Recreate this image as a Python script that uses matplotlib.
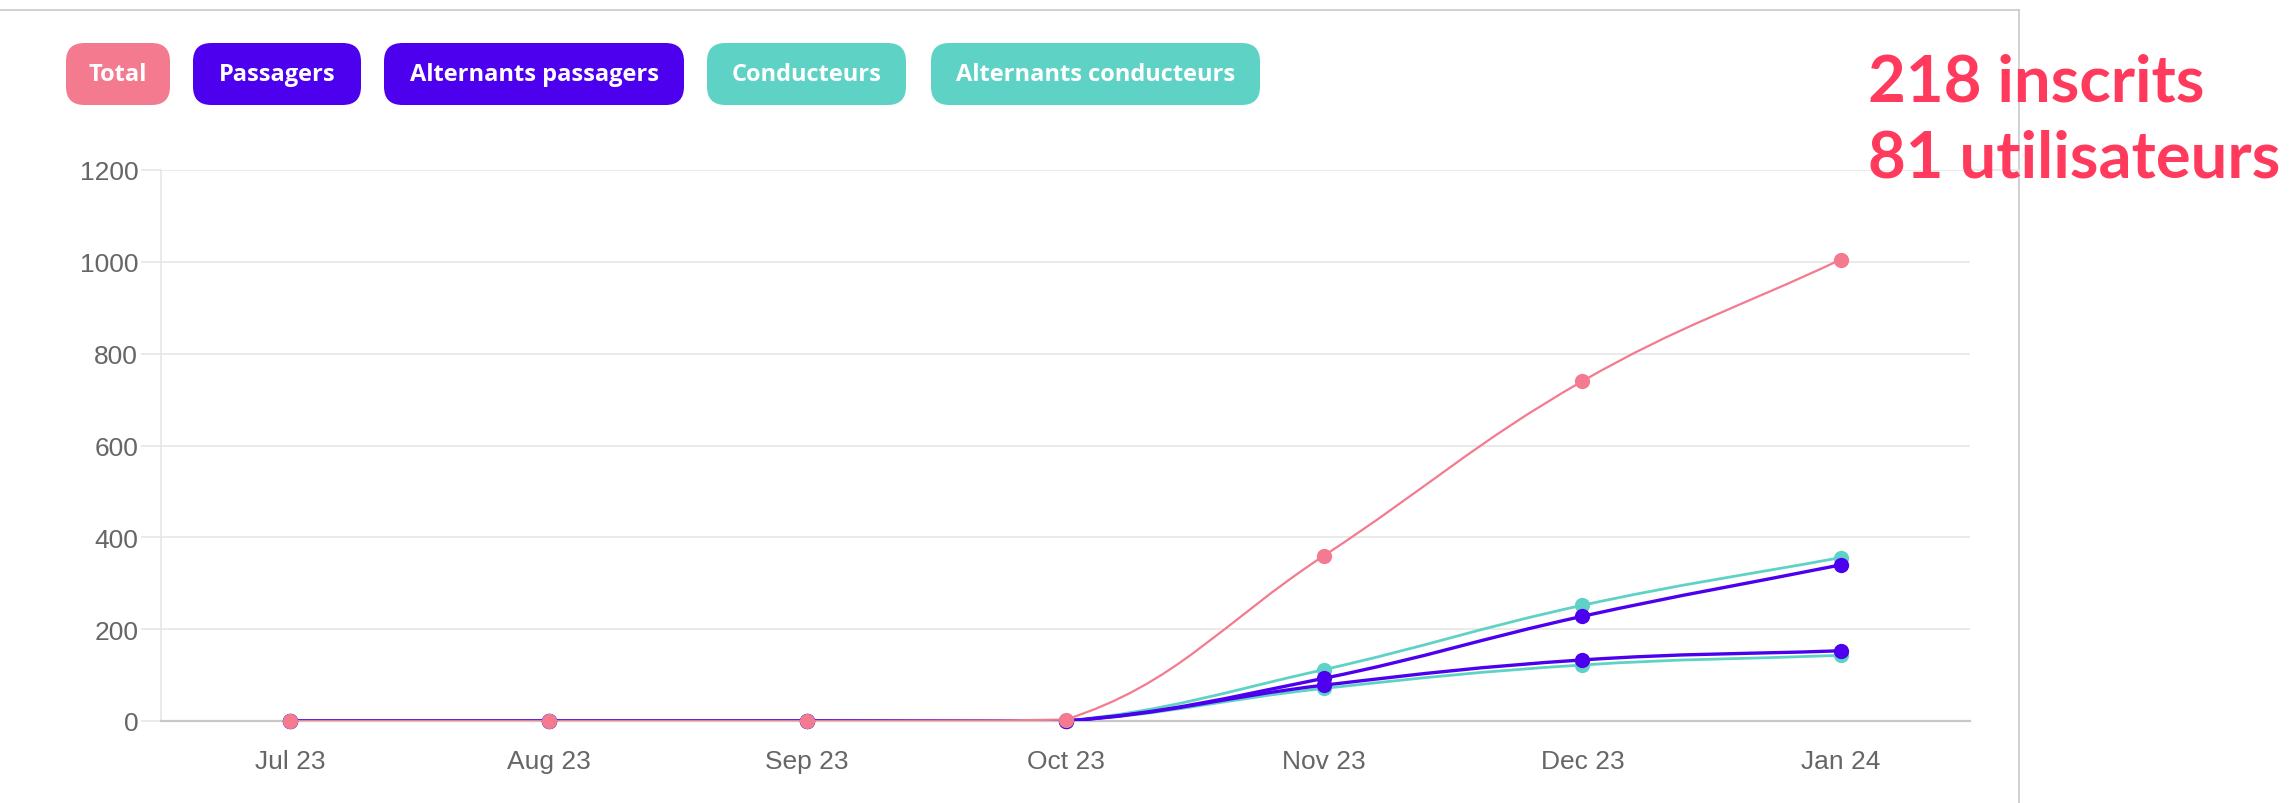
import numpy as np
import matplotlib
matplotlib.use('Agg')
import matplotlib.pyplot as plt
from matplotlib.path import Path
from matplotlib.patches import PathPatch, FancyBboxPatch
from matplotlib.lines import Line2D

months = ['Jul 23', 'Aug 23', 'Sep 23', 'Oct 23', 'Nov 23', 'Dec 23', 'Jan 24']
total = [0, 0, 0, 3, 360, 740, 1005]
passagers = [0, 0, 0, 0, 93, 228, 340]
alt_passagers = [0, 0, 0, 0, 78, 133, 153]
conducteurs = [0, 0, 0, 0, 112, 252, 356]
alt_conducteurs = [0, 0, 0, 0, 71, 122, 143]
y_ticks = [0, 200, 400, 600, 800, 1000, 1200]

pink = '#f47a90'
purple = '#4c00ee'
teal = '#5ed3c5'

W, H = 2293, 804
fig = plt.figure(figsize=(W / 100, H / 100), dpi=100, facecolor='white')


def fx(px):
    return px / W


def fy(py):
    return 1 - py / H


ax = fig.add_axes([fx(161), fy(722), fx(1970) - fx(161), fy(171) - fy(722)])
x = np.arange(len(months))
ax.set_xlim(-0.5, len(months) - 0.5)
ax.set_ylim(0, 1200)
ax.set_xticks(x)
ax.set_xticklabels(months)
ax.set_yticks(y_ticks)
ax.set_yticklabels([str(v) for v in y_ticks])
for s in ['top', 'right']:
    ax.spines[s].set_visible(False)
ax.spines['left'].set_color('#e6e6e6')
ax.spines['left'].set_linewidth(1.2)
ax.spines['bottom'].set_color('#c8c8c8')
ax.spines['bottom'].set_linewidth(1.6)
ax.yaxis.grid(True, color='#e6e6e6', linewidth=1.2)
ax.set_axisbelow(True)
ax.tick_params(axis='y', length=14.4, width=1.2, color='#e6e6e6', pad=2,
               labelsize=19, labelcolor='#666666')
ax.tick_params(axis='x', length=0, pad=20, labelsize=19, labelcolor='#666666')
for lab in ax.get_xticklabels() + ax.get_yticklabels():
    lab.set_fontfamily('Liberation Sans')


def spline_path(xs, ys, t=0.4):
    # chart.js style bezier with tension, computed in pixel space
    pts = ax.transData.transform(np.column_stack([xs, ys]).astype(float))
    bb = ax.bbox
    n = len(pts)
    cps = []
    for i in range(n):
        prev = pts[max(i - 1, 0)]
        cur = pts[i]
        nxt = pts[min(i + 1, n - 1)]
        d01 = np.hypot(*(cur - prev))
        d12 = np.hypot(*(nxt - cur))
        s = d01 + d12
        s01 = d01 / s if s else 0
        s12 = d12 / s if s else 0
        cp_prev = cur - t * s01 * (nxt - prev)
        cp_next = cur + t * s12 * (nxt - prev)
        for cp in (cp_prev, cp_next):
            cp[0] = min(max(cp[0], bb.x0), bb.x1)
            cp[1] = min(max(cp[1], bb.y0), bb.y1)
        cps.append((cp_prev, cp_next))
    verts = [pts[0]]
    codes = [Path.MOVETO]
    for i in range(n - 1):
        verts += [cps[i][1], cps[i + 1][0], pts[i + 1]]
        codes += [Path.CURVE4] * 3
    inv = ax.transData.inverted()
    return Path(inv.transform(np.array(verts)), codes)


series = [
    (alt_conducteurs, teal, 2.0),
    (conducteurs, teal, 2.0),
    (alt_passagers, purple, 2.4),
    (passagers, purple, 2.4),
    (total, pink, 1.6),
]
for z, (vals, col, lw) in enumerate(series):
    p = spline_path(x, vals)
    ax.add_patch(PathPatch(p, facecolor='none', edgecolor=col, lw=lw, zorder=3 + z * 2))
    ax.plot(x, vals, 'o', color=col, markersize=11, markeredgewidth=0,
            zorder=4 + z * 2, clip_on=False)

# card border
fig.add_artist(Line2D([0, fx(2019)], [fy(11), fy(11)], color='#c8c8c8', lw=1.2))
fig.add_artist(Line2D([fx(2019), fx(2019)], [fy(11), 0], color='#c8c8c8', lw=1.2))
fig.add_artist(Line2D([fx(1970), fx(2019)], [fy(171), fy(171)], color='#e6e6e6', lw=1.2))

# legend buttons
buttons = [
    ('Total', pink, 66, 170),
    ('Passagers', purple, 193, 361),
    ('Alternants passagers', purple, 384, 684),
    ('Conducteurs', teal, 707, 906),
    ('Alternants conducteurs', teal, 931, 1260),
]
for label, col, x0, x1 in buttons:
    box = FancyBboxPatch((fx(x0), fy(106)), fx(x1) - fx(x0), fy(44) - fy(106),
                         boxstyle='round,pad=0,rounding_size=0.008',
                         facecolor=col, edgecolor='none', transform=fig.transFigure,
                         mutation_aspect=W / H)
    fig.add_artist(box)
    fig.text((fx(x0) + fx(x1)) / 2, (fy(44) + fy(106)) / 2, label, color='white',
             fontsize=17, fontweight='bold', family='Open Sans', ha='center', va='center')

fig.text(fx(1868), fy(102), '218 inscrits', color='#ff3a5c', fontsize=47,
         fontweight='bold', family='Lato', ha='left', va='baseline')
fig.text(fx(1868), fy(178), '81 utilisateurs', color='#ff3a5c', fontsize=47,
         fontweight='bold', family='Lato', ha='left', va='baseline')

fig.savefig('out.png', dpi=100, facecolor='white')
